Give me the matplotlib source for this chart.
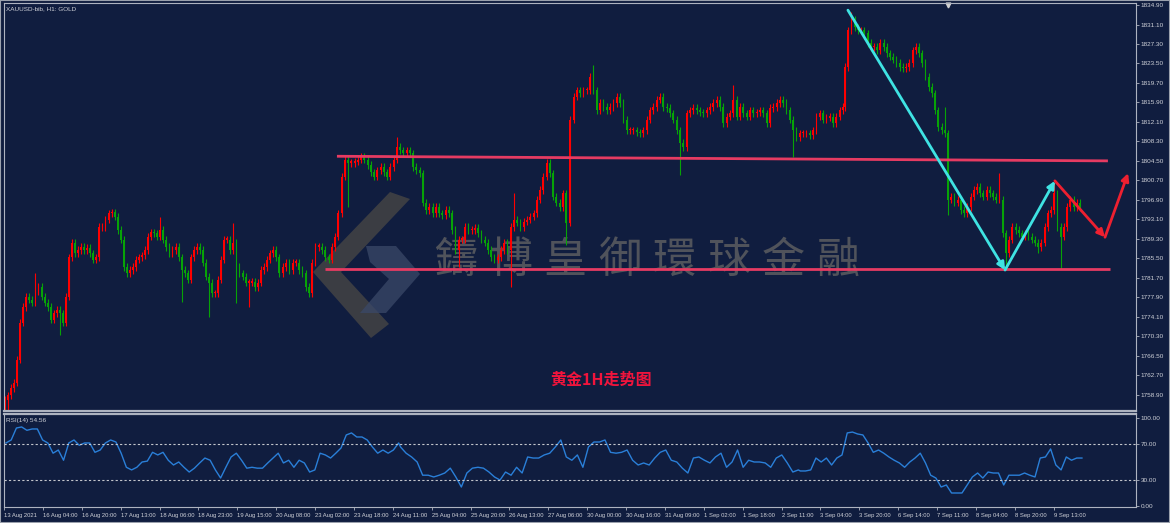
import numpy as np
import matplotlib.pyplot as plt
from matplotlib.patches import Polygon, Rectangle

# ---- data (XAUUSD H1, 13 Aug - 9 Sep 2021) ----
# closes, in four stretches of the chart; bar-number span for each stretch
close_a = [1757.9, 1758.8, 1760.2, 1761.2, 1765.7, 1772.9, 1776.0, 1778.0, 1777.4, 1776.8,
           1779.0, 1779.9, 1778.0, 1776.8, 1776.0, 1773.5, 1774.8, 1775.4, 1774.8, 1772.9,
           1778.0, 1785.7, 1788.5, 1786.5, 1787.1, 1787.7, 1787.1, 1787.5, 1786.5, 1785.2,
           1785.7, 1791.6, 1791.6, 1793.0, 1794.3, 1794.5, 1793.6, 1791.0, 1789.1, 1783.8,
           1782.6, 1783.2, 1783.8, 1785.2, 1785.7, 1786.1, 1787.1, 1789.7, 1790.6, 1790.4,
           1789.7, 1791.0, 1789.1, 1787.7, 1786.5, 1787.1, 1787.7, 1785.7, 1783.2, 1782.6,
           1781.3, 1785.7, 1787.1, 1787.7, 1787.1, 1784.6, 1781.9, 1780.7, 1778.7, 1778.7,
           1781.3, 1785.2, 1789.1, 1789.1, 1787.1, 1788.5, 1783.8, 1782.6, 1781.9, 1780.7,
           1780.7, 1780.9, 1779.9, 1780.7, 1783.2, 1783.8, 1785.2, 1786.5, 1787.1, 1785.7,
           1782.6]
close_b = [1783.8, 1784.6, 1783.2, 1784.6, 1784.6, 1783.2, 1782.6, 1779.9, 1778.7, 1784.6,
           1787.7, 1787.7, 1787.1, 1785.7, 1785.2, 1787.7, 1789.7, 1794.3, 1801.4, 1804.7,
           1804.1, 1804.1, 1804.3, 1804.7, 1805.3, 1804.7, 1803.7, 1802.3, 1801.4, 1802.7,
           1803.3, 1802.3, 1801.4, 1803.3, 1804.7, 1807.2, 1806.6, 1806.0, 1806.6, 1806.0,
           1803.3, 1802.7, 1802.1, 1796.3, 1794.9, 1795.5, 1794.3, 1795.5, 1794.3, 1793.9,
           1794.9, 1794.3, 1791.0, 1787.1, 1789.1, 1789.1, 1791.6, 1791.0, 1791.0, 1791.4,
           1790.4, 1789.1, 1788.5, 1787.1, 1785.7, 1785.2, 1785.7, 1787.1, 1788.5, 1787.1,
           1791.6, 1793.0, 1792.4, 1791.6, 1792.6, 1793.0, 1793.6, 1794.3, 1796.9, 1798.8,
           1801.4, 1804.1, 1802.1, 1797.5, 1796.3, 1795.5, 1798.2, 1792.4]
close_c = [1812.5, 1817.0, 1818.3, 1817.7, 1818.3, 1818.3, 1820.9, 1818.3, 1814.4, 1815.8,
           1815.0, 1814.4, 1815.0, 1815.8, 1817.0, 1815.8, 1812.5, 1810.5, 1810.5, 1810.5,
           1810.1, 1809.9, 1810.5, 1812.5, 1814.4, 1815.0, 1816.4, 1817.0, 1815.0, 1814.8,
           1813.8, 1812.5, 1810.5, 1808.0, 1807.2, 1813.8, 1814.4, 1814.8, 1814.4, 1814.0,
           1813.8, 1814.4, 1815.0, 1815.8, 1816.4, 1815.0, 1811.9, 1813.1, 1813.8, 1816.4,
           1813.1, 1815.0, 1813.8, 1813.1, 1814.4, 1813.8, 1814.0, 1814.4, 1813.8, 1811.9,
           1814.8, 1815.0, 1815.8, 1816.4, 1815.8, 1814.4, 1812.5, 1810.5, 1809.1, 1809.9,
           1809.9, 1809.9, 1809.5, 1810.5, 1813.1, 1813.8, 1812.5, 1812.9, 1813.1, 1811.9,
           1813.1, 1814.4, 1815.0]
close_d = [1822.8, 1830.0, 1832.0, 1830.6, 1830.0, 1830.0, 1829.4, 1827.5, 1826.7, 1826.7,
           1826.1, 1827.5, 1826.7, 1825.5, 1824.8, 1824.2, 1823.6, 1822.8, 1822.6, 1822.8,
           1823.6, 1826.1, 1826.7, 1825.5, 1823.6, 1820.9, 1818.9, 1817.7, 1814.4, 1811.1,
           1810.5, 1809.9, 1796.9, 1797.5, 1796.3, 1796.9, 1794.9, 1794.3, 1795.5, 1797.5,
           1798.8, 1799.4, 1798.2, 1797.5, 1798.8, 1798.2, 1797.5, 1796.9, 1796.9, 1790.4,
           1786.5, 1789.1, 1791.6, 1791.0, 1790.4, 1789.7, 1790.4, 1789.7, 1789.1, 1788.5,
           1787.7, 1788.5, 1791.6, 1794.3, 1794.9, 1798.2, 1791.6, 1789.7, 1791.6, 1795.5,
           1796.9, 1795.5, 1796.3, 1795.5]
close_spans = [(0, 112.7), (114.3, 230.7), (232.4, 344.6), (345.4, 442.0)]
first_open = 1756.6

# long wicks (bar number: price)
spike_hi = {12.7: 1782.6, 63.7: 1793.6, 94.2: 1792.4, 161.6: 1809.1, 209.7: 1798.2,
            241.8: 1823.2, 299.3: 1819.3, 347.4: 1833.5, 386.5: 1815.0, 409.1: 1802.1,
            431.7: 1800.2}
spike_lo = {1.2: 1755.9, 23.0: 1770.5, 72.8: 1777.0, 84.3: 1774.0, 95.0: 1776.8,
            99.9: 1776.0, 140.6: 1795.5, 186.3: 1783.8, 208.5: 1779.9, 230.7: 1788.1,
            277.5: 1801.7, 324.0: 1805.3, 387.8: 1793.9, 411.2: 1783.2, 424.3: 1786.5,
            433.8: 1783.6}

# RSI(14), three stretches
rsi_a = [71.6, 75, 88.6, 89.8, 86, 87.5, 87.5, 75, 71.6, 60, 63.6, 52, 71.6, 75, 69, 71.6,
         71.6, 61, 63.6, 71.6, 75, 72.7, 60, 44, 41, 44, 50, 51, 61, 58, 61, 52, 46.6, 50,
         44, 38.6, 43, 48.9, 54.5, 52, 41, 31.8, 44, 55.7, 60, 52, 43, 44, 43, 43, 48.9,
         54.5, 60, 48.9, 52, 44, 52, 48.9, 38.6, 41, 60, 58, 54.5, 60, 65.9, 80.7, 83,
         78.4, 78.4, 75, 67, 60, 63.6, 60, 63.6, 71.6]
rsi_b = [67, 60, 55.7, 50, 35, 35, 33, 35, 37.5, 43, 33, 21.6, 37.5, 43, 44, 43, 38.6, 33,
         29.5, 38.6, 35, 44, 37.5, 55.7, 54.5, 54.5, 58, 60, 67, 75, 55.7, 52, 58, 44, 67,
         72.7, 72.7, 75, 61, 60, 61, 63.6, 52, 46.6, 48.9, 46.6, 54.5, 61, 63.6, 52, 50,
         43, 37.5, 54.5, 55.7, 52, 48.9, 55.7, 60, 44, 50, 63.6, 44, 52, 50, 50, 48.9, 44,
         54.5, 58, 48.9, 38.6, 41]
rsi_c = [39.8, 39.8, 41, 54.5, 50, 54.5, 46.6, 54.5, 58, 83, 84, 81.8, 80.7, 71.6, 61, 63.6,
         60, 55.7, 52, 48.9, 44, 50, 54.5, 60, 48.9, 35, 31.8, 21.6, 23.9, 14.8, 14.8, 14.8,
         23.9, 33, 37.5, 31.8, 38.6, 37.5, 37.5, 23.9, 35, 35, 35, 37.5, 35, 33, 54.5, 55.7,
         64.8, 46.6, 41, 55.7, 52, 54.5, 54.5]
rsi_spans = [(0, 161.6), (162.4, 326.1), (326.9, 442.8)]

price_ticks = [1834.90, 1831.10, 1827.30, 1823.50, 1819.70, 1815.90, 1812.10, 1808.30,
               1804.50, 1800.70, 1796.90, 1793.10, 1789.30, 1785.50, 1781.70, 1777.90,
               1774.10, 1770.30, 1766.50, 1762.70, 1758.90]
time_labels = ['13 Aug 2021', '16 Aug 04:00', '16 Aug 20:00', '17 Aug 13:00', '18 Aug 06:00',
               '18 Aug 23:00', '19 Aug 15:00', '20 Aug 08:00', '23 Aug 02:00', '23 Aug 18:00',
               '24 Aug 11:00', '25 Aug 04:00', '25 Aug 20:00', '26 Aug 13:00', '27 Aug 06:00',
               '30 Aug 00:00', '30 Aug 16:00', '31 Aug 09:00', '1 Sep 02:00', '1 Sep 18:00',
               '2 Sep 11:00', '3 Sep 04:00', '3 Sep 20:00', '6 Sep 14:00', '7 Sep 11:00',
               '8 Sep 04:00', '8 Sep 20:00', '9 Sep 13:00']
bars_per_label = 16

# drawn levels and arrows (bar number, price)
resistance = [(136.5, 1805.4), (453.5, 1804.5)]
support = [(131.6, 1783.4), (454.4, 1783.4)]
cyan_legs = [((346.6, 1833.9), (411.2, 1783.2)), ((411.2, 1783.2), (431.7, 1800.6))]
red_legs = [((431.7, 1800.6), (452.3, 1789.6)), ((452.3, 1789.6), (461.8, 1802.1))]

# ---- style ----
bg = '#101d3f'
axis_c = '#aeb3c0'
txt_c = '#cfd1d8'
up_c = '#ff0000'
dn_c = '#07a307'
fnt = ['Liberation Sans', 'DejaVu Sans']

W, H = 1170, 523
def fx(px):
    return px / W
def fy(py):
    return 1 - py / H

fig = plt.figure(figsize=(11.7, 5.23), dpi=100, facecolor=bg)
ax = fig.add_axes([fx(4), fy(411), fx(1136) - fx(4), fy(3) - fy(411)], facecolor=bg)
rs = fig.add_axes([fx(4), fy(507), fx(1136) - fx(4), fy(414) - fy(507)], facecolor=bg)

# ---- candles ----
closes = np.concatenate([close_a, close_b, close_c, close_d])
t = np.concatenate([np.linspace(a, b, len(c)) for (a, b), c in
                    zip(close_spans, [close_a, close_b, close_c, close_d])])
opens = np.concatenate([[first_open], closes[:-1]])
highs = np.maximum(opens, closes) + 0.7
lows = np.minimum(opens, closes) - 0.7
for k, v in spike_hi.items():
    i = np.argmin(np.abs(t - k))
    highs[i] = max(highs[i], v)
for k, v in spike_lo.items():
    i = np.argmin(np.abs(t - k))
    lows[i] = min(lows[i], v)
cols = np.where(closes >= opens, up_c, dn_c)
ax.vlines(t, lows, highs, colors=cols, lw=0.8, zorder=2)
ax.bar(t, np.maximum(np.abs(closes - opens), 0.3), bottom=np.minimum(opens, closes),
       width=0.75, color=cols, lw=0, zorder=2)

# levels
for line in (resistance, support):
    xs, ys = zip(*line)
    ax.plot(xs, ys, color='#e63b62', lw=2.0, zorder=3, solid_capstyle='butt')
for legs, c in ((cyan_legs, '#3fe3e3'), (red_legs, '#ee2030')):
    for p0, p1 in legs:
        ax.annotate('', xy=p1, xytext=p0, zorder=4, annotation_clip=False,
                    arrowprops=dict(arrowstyle='-|>', color=c, lw=2.0,
                                    mutation_scale=11, shrinkA=0, shrinkB=0))

ax.set_xlim(-0.4, 465.05)
ax.set_ylim(1755.7, 1835.3)
ax.set_xticks([])
ax.yaxis.tick_right()
ax.set_yticks(price_ticks)
ax.set_yticklabels(['%.2f' % p for p in price_ticks], fontsize=4.6, family=fnt)
ax.tick_params(axis='y', colors=axis_c, length=2, width=0.6, pad=1.5, labelcolor=txt_c)
for s in ax.spines.values():
    s.set_color(axis_c)
    s.set_linewidth(0.8)
ax.spines['bottom'].set_linewidth(1.6)

ax.text(0.002, 0.992, 'XAUUSD-bib, H1: GOLD', transform=ax.transAxes, fontsize=4.6,
        color=txt_c, family=fnt, va='top', ha='left')
ax.plot([387.7], [0.996], marker='v', ms=3.5, color='#d0d0d0',
        transform=ax.get_xaxis_transform(), clip_on=False)

# watermark: logo and name
brown = [(390, 192), (410, 199), (341, 272), (389, 324), (371, 338), (313, 272)]
blue = [(366, 246), (396, 246), (420, 274), (386, 313), (360, 313), (389, 279), (370, 262)]
for pts, c in ((brown, '#4a4845'), (blue, '#3a4868')):
    ax.add_patch(Polygon([(fx(x), fy(y)) for x, y in pts], closed=True,
                         transform=fig.transFigure, fc=c, ec='none', alpha=0.75, zorder=1))
for k, ch in enumerate('鑄博皇御環球金融'):
    ax.text(fx(456 + 54.6 * k), fy(261), ch, transform=fig.transFigure, fontsize=31,
            color='#50535b', family=['Noto Sans CJK TC', 'DejaVu Sans'],
            ha='center', va='center', zorder=1)

ax.text(fx(601), fy(380), '黄金1H走势图', transform=fig.transFigure, fontsize=11.5,
        color='#f0143c', family=['Noto Sans CJK SC', 'DejaVu Sans'], fontweight='bold',
        ha='center', va='center', zorder=4)

# ---- RSI panel ----
rt = np.concatenate([np.linspace(a, b, len(r)) for (a, b), r in
                     zip(rsi_spans, [rsi_a, rsi_b, rsi_c])])
rv = np.concatenate([rsi_a, rsi_b, rsi_c])
rs.plot(rt, rv, color='#2a7fd8', lw=1.0)
for lvl in (70, 30):
    rs.axhline(lvl, color='#c4c6cc', lw=0.8, ls=(0, (2, 2)))
rs.set_xlim(-0.4, 465.05)
rs.set_ylim(-1.1, 104.5)
rs.yaxis.tick_right()
rs.set_yticks([100, 70, 30, 0])
rs.set_yticklabels(['100.00', '70.00', '30.00', '0.00'], fontsize=4.6, family=fnt)
rs.tick_params(axis='y', colors=axis_c, length=2, width=0.6, pad=1.5, labelcolor=txt_c)
tick_pos = np.arange(len(time_labels)) * bars_per_label - 0.8
rs.set_xticks(tick_pos)
rs.set_xticklabels(time_labels, fontsize=4.2, family=fnt, ha='left')
rs.tick_params(axis='x', colors=axis_c, length=2.5, width=0.6, pad=1.5, labelcolor=txt_c)
for s in rs.spines.values():
    s.set_color(axis_c)
    s.set_linewidth(0.8)
rs.spines['top'].set_linewidth(1.6)
rs.text(0.002, 0.96, 'RSI(14) 54.56', transform=rs.transAxes, fontsize=4.6,
        color=txt_c, family=fnt, va='top', ha='left')

fig.patches.append(Rectangle((0, 0), 1, 1, transform=fig.transFigure, fill=False,
                             ec='#9aa0ac', lw=1.5))

fig.savefig('out.png', dpi=100, facecolor=bg)
